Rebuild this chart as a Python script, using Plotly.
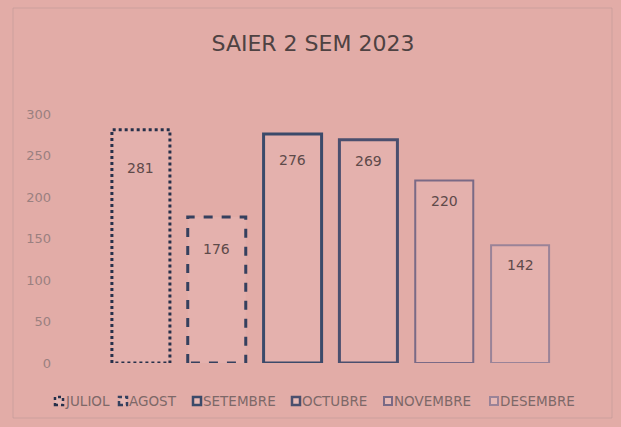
import plotly.graph_objects as go

# Monthly totals, second half of 2023
months = ["JULIOL", "AGOST", "SETEMBRE", "OCTUBRE", "NOVEMBRE", "DESEMBRE"]
values = [281, 176, 276, 269, 220, 142]
y_ticks = [0, 50, 100, 150, 200, 250, 300]

# Styling per month
outline_colors = ["#26304a", "#35405e", "#3b4a6a", "#4a4f6e", "#7a6a86", "#9a8398"]
outline_dash = ["dot", "dash", "solid", "solid", "solid", "solid"]
outline_width = [3, 3, 3, 3, 2, 2]
label_drop = [38, 32, 26, 21, 21, 20]
# legend key placement (pixel left edge of each key box)
key_left = [54, 118, 192, 291, 383, 489]

FONT = "DejaVu Sans"
BG = "#e2aca7"
FILL = "rgba(255,255,255,0.07)"
BAR_W = 0.765

W, H = 621, 427
ML, MR, MT, MB = 103, 63, 114, 64
PW = W - ML - MR
PH = H - MT - MB


def px_x(p):
    return (p - ML) / PW


def px_y(p):
    return (H - MB - p) / PH


fig = go.Figure()

for i, (m, v) in enumerate(zip(months, values)):
    if outline_dash[i] == "solid":
        fig.add_trace(go.Bar(
            x=[i], y=[v], width=BAR_W, name=m,
            marker=dict(color=FILL, line=dict(color=outline_colors[i], width=outline_width[i])),
            hoverinfo="name+y",
        ))
    else:
        # broken outlines are traced as a closed path around the bar
        x0, x1 = i - BAR_W / 2, i + BAR_W / 2
        fig.add_trace(go.Scatter(
            x=[x0, x0, x1, x1, x0], y=[0, v, v, 0, 0], name=m,
            mode="lines", fill="toself", fillcolor=FILL,
            line=dict(color=outline_colors[i], width=outline_width[i], dash=outline_dash[i]),
            hoverinfo="name",
        ))
    fig.add_annotation(
        x=i, y=v, yshift=-label_drop[i], text=str(v), showarrow=False,
        font=dict(family=FONT, size=14, color="#5e4a4a"),
    )

    # legend key + label below the plot
    kx = key_left[i]
    key_dash = {"dot": "dot", "dash": "4px,3px", "solid": "solid"}[outline_dash[i]]
    fig.add_shape(
        type="rect", xref="paper", yref="paper",
        x0=px_x(kx + 1), x1=px_x(kx + 9), y0=px_y(405), y1=px_y(397),
        line=dict(color=outline_colors[i], width=2.5 if i < 4 else 2, dash=key_dash),
        fillcolor="rgba(255,255,255,0.15)",
    )
    fig.add_annotation(
        xref="paper", yref="paper", x=px_x(kx + 9), y=px_y(401),
        xanchor="left", yanchor="middle", showarrow=False, text=m,
        font=dict(family=FONT, size=13.5, color="#7d6868"),
    )

# faint outer frame of the chart area
fig.add_shape(
    type="rect", xref="paper", yref="paper",
    x0=px_x(13), x1=px_x(612), y0=px_y(418), y1=px_y(8),
    line=dict(color="rgba(175,145,145,0.4)", width=1),
)

fig.update_layout(
    width=W, height=H,
    margin=dict(l=ML, r=MR, t=MT, b=MB),
    paper_bgcolor=BG, plot_bgcolor=BG,
    title=dict(text="SAIER 2 SEM 2023", x=313 / W, xref="container", xanchor="center",
               y=1 - 43 / H, yanchor="middle",
               font=dict(family=FONT, size=22, color="#4e4242")),
    barmode="overlay",
    showlegend=False,
    xaxis=dict(range=[-0.5, 5.5], showticklabels=False, showgrid=False,
               zeroline=False, showline=False, ticks=""),
    yaxis=dict(range=[0, 300], tickvals=y_ticks, showgrid=False, zeroline=False,
               showline=False, ticks="", ticklabelstandoff=51,
               tickfont=dict(family=FONT, size=13, color="#9a8080")),
)

fig.write_html("out.html")
